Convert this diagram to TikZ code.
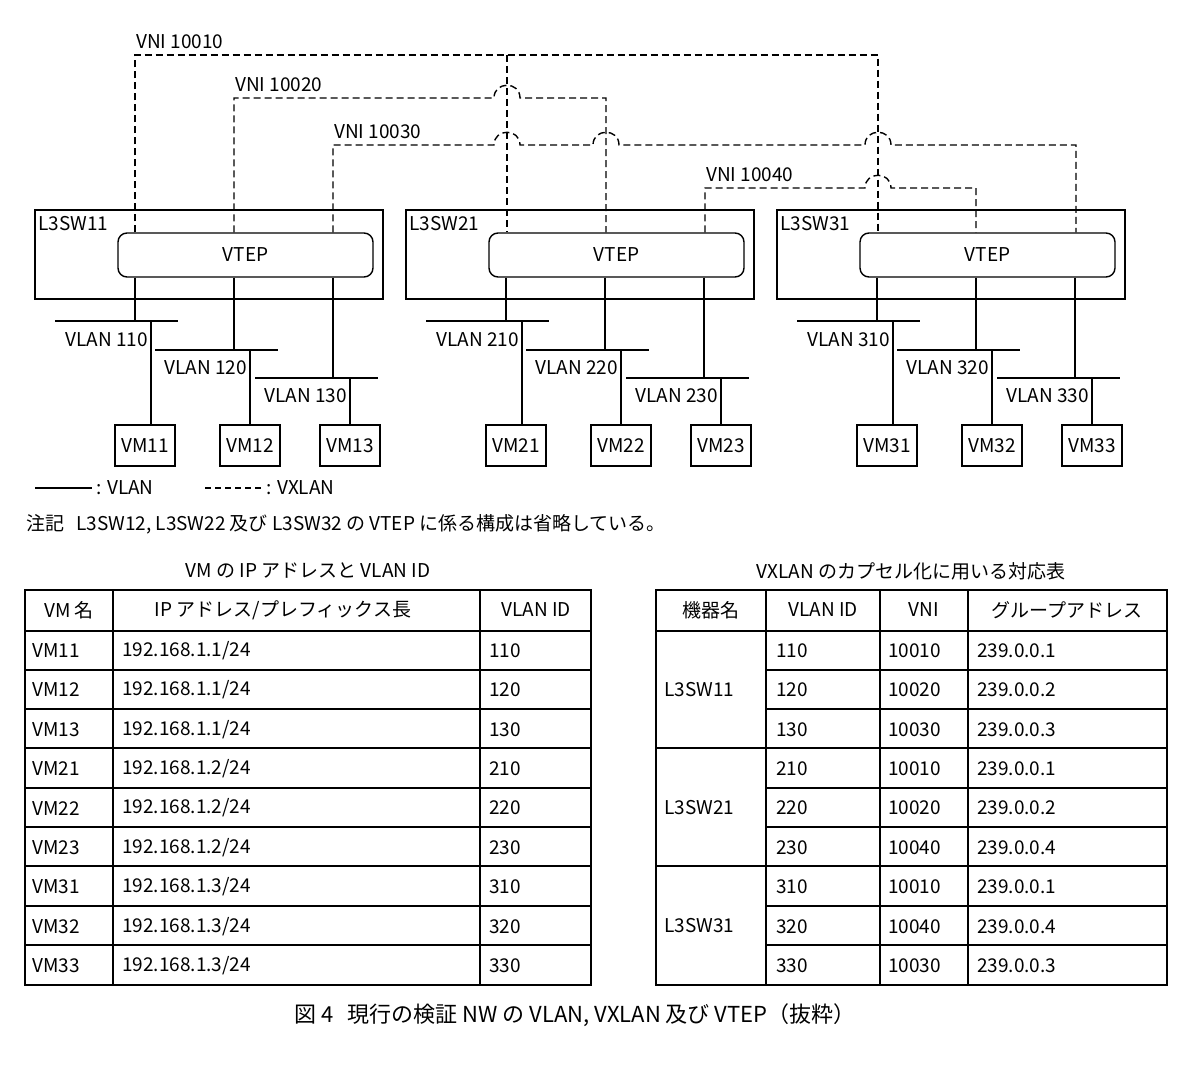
\documentclass[tikz,border=0pt]{standalone}
\usepackage{fontspec}
\setmainfont{Noto Sans CJK JP}
\begin{document}
\begin{tikzpicture}[x=1pt,y=-1pt,
  ln/.style={line width=1.4pt},
  vx/.style={line width=1.4pt,dash pattern=on 7pt off 4pt},
  sw/.style={draw,line width=1.4pt,minimum width=348pt,minimum height=89pt,inner sep=0},
  vtep/.style={draw,line width=1.4pt,rounded corners=9pt,minimum width=255pt,minimum height=44pt,font=\fontsize{19}{19}\selectfont},
  vm/.style={draw,line width=1.4pt,minimum width=60pt,minimum height=41pt,font=\fontsize{19}{19}\selectfont},
  lb/.style={font=\fontsize{19}{19}\selectfont,inner sep=1pt},
  tb/.style={line width=1.6pt},
  cell/.style={font=\fontsize{19}{19}\selectfont,anchor=west,inner sep=0}]
\useasboundingbox (0,0) rectangle (1188,1070);
\fill[white] (0,0) rectangle (1188,1070);
% switches
\foreach \g/\o in {1/0,2/371,3/742}{
  \node[sw] (sw\g) at (209+\o,254.5) {};
  \node[lb,anchor=north west] (swl\g) at (37+\o,215) {L3SW\g1};
  \node[vtep] (vt\g) at (245.5+\o,255) {VTEP};
  \node[vm] (vma\g) at (145+\o,445.5) {VM\g1};
  \node[vm] (vmb\g) at (250+\o,445.5) {VM\g2};
  \node[vm] (vmc\g) at (350+\o,445.5) {VM\g3};
  \coordinate (ba\g) at (135+\o,321);
  \coordinate (bb\g) at (234+\o,350);
  \coordinate (bc\g) at (333+\o,378);
  \draw[ln] (vt\g.south -| ba\g) -- (ba\g);
  \draw[ln] (vt\g.south -| bb\g) -- (bb\g);
  \draw[ln] (vt\g.south -| bc\g) -- (bc\g);
  \draw[ln] (55+\o,321) -- (178+\o,321);
  \draw[ln] (155+\o,350) -- (278+\o,350);
  \draw[ln] (255+\o,378) -- (378+\o,378);
  \draw[ln] (151+\o,321) -- (vma\g.north -| 151+\o,0);
  \draw[ln] (250+\o,350) -- (vmb\g.north);
  \draw[ln] (350+\o,378) -- (vmc\g.north);
  \node[lb,anchor=east] (la\g) at (149+\o,340) {VLAN \g10};
  \node[lb,anchor=east] (lb\g) at (248+\o,368) {VLAN \g20};
  \node[lb,anchor=east] (lc\g) at (348+\o,396) {VLAN \g30};
}
% VXLAN dashed
\def\hop#1#2{-- (#1-13,#2) .. controls (#1-13,#2-17) and (#1+13,#2-17) .. (#1+13,#2)}
\draw[vx] (vt1.north -| 135,0) -- (135,55) -- (878,55) -- (vt3.north -| 878,0);
\draw[vx] (507,55) -- (vt2.north -| 507,0);
\draw[vx] (vt1.north -| 234,0) -- (234,98) \hop{507}{98} -- (606,98) -- (vt2.north -| 606,0);
\draw[vx] (vt1.north -| 333,0) -- (333,145) \hop{507}{145} \hop{606}{145} \hop{878}{145} -- (1076,145) -- (vt3.north -| 1076,0);
\draw[vx] (vt2.north -| 705,0) -- (705,188) \hop{878}{188} -- (976,188) -- (vt3.north -| 976,0);
\node[lb,anchor=south west] (v1) at (135,50) {VNI 10010};
\node[lb,anchor=south west] (v2) at (234,93) {VNI 10020};
\node[lb,anchor=south west] (v3) at (333,140) {VNI 10030};
\node[lb,anchor=south west] (v4) at (705,183) {VNI 10040};
% legend
\coordinate (l1a) at (35,488); \coordinate (l1b) at (92,488);
\draw[ln] (l1a) -- (l1b);
\node[lb,anchor=west] (lg1) at (95,488) {: VLAN};
\coordinate (l2a) at (205,488); \coordinate (l2b) at (262,488);
\draw[vx,dash pattern=on 6pt off 4pt] (l2a) -- (l2b);
\node[lb,anchor=west] (lg2) at (265,488) {: VXLAN};
\node[lb,anchor=west] (note) at (25,524) {注記\hspace{12pt}L3SW12, L3SW22 及び L3SW32 の VTEP に係る構成は省略している。};
% left table
\node[lb] (t1) at (308,571) {VM の IP アドレスと VLAN ID};
\draw[tb] (25,590) rectangle (591,985);
\foreach \yy in {631,670,709,748,788,827,866,906,945} \draw[tb] (25,\yy) -- (591,\yy);
\draw[tb] (113,590) -- (113,985); \draw[tb] (480,590) -- (480,985);
\node[lb] (h1) at (69,610) {VM 名};
\node[lb] (h2) at (283,610) {IP アドレス/プレフィックス長};
\node[lb] (h3) at (536,610) {VLAN ID};
\foreach \n/\ip/\v [count=\i from 0] in {11/1/110,12/1/120,13/1/130,21/2/210,22/2/220,23/2/230,31/3/310,32/3/320,33/3/330}{
  \node[cell] (ra\i) at (32,650.5+39.4*\i) {VM\n};
  \node[cell] (rb\i) at (122,650.5+39.4*\i) {192.168.1.\ip/24};
  \node[cell] (rc\i) at (489,650.5+39.4*\i) {\v};
}
% right table
\node[lb] (t2) at (911,571) {VXLAN のカプセル化に用いる対応表};
\draw[tb] (656,590) rectangle (1167,985);
\draw[tb] (656,631) -- (1167,631);
\foreach \yy in {670,709,788,827,906,945} \draw[tb] (766,\yy) -- (1167,\yy);
\draw[tb] (656,748) -- (1167,748); \draw[tb] (656,866) -- (1167,866);
\foreach \xx in {766,880,968} \draw[tb] (\xx,590) -- (\xx,985);
\node[lb] (g1) at (711,610) {機器名};
\node[lb] (g2) at (823,610) {VLAN ID};
\node[lb] (g3) at (924,610) {VNI};
\node[lb] (g4) at (1067,610) {グループアドレス};
\node[cell] (m1) at (664,689.5) {L3SW11};
\node[cell] (m2) at (664,807.5) {L3SW21};
\node[cell] (m3) at (664,925.5) {L3SW31};
\foreach \v/\n/\a [count=\i from 0] in {110/10010/1,120/10020/2,130/10030/3,210/10010/1,220/10020/2,230/10040/4,310/10010/1,320/10040/4,330/10030/3}{
  \node[cell] (sa\i) at (776,650.5+39.4*\i) {\v};
  \node[cell] (sb\i) at (888,650.5+39.4*\i) {\n};
  \node[cell] (sc\i) at (977,650.5+39.4*\i) {239.0.0.\a};
}
\node[font=\fontsize{22}{22}\selectfont] (cap) at (575,1015) {図 4\hspace{14pt}現行の検証 NW の VLAN, VXLAN 及び VTEP（抜粋）};
\end{tikzpicture}
\end{document}
